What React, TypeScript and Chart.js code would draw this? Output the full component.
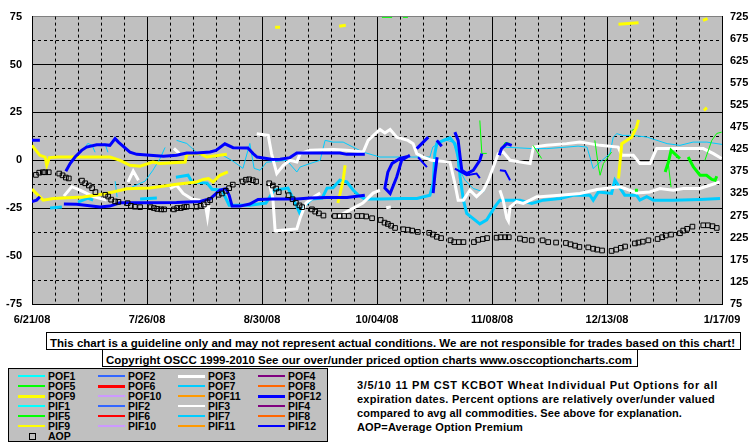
import React, { useEffect, useLayoutEffect, useRef } from 'react';
import { Chart, registerables } from 'chart.js';

Chart.register(...registerables);

type P = [number, number] | null;

// ---------- axes ----------
const xTickLabels = ['6/21/08', '7/26/08', '8/30/08', '10/04/08', '11/08/08', '12/13/08', '1/17/09'];
const xTickDays = [0, 35, 70, 105, 140, 175, 210];
const leftTicks = [-75, -50, -25, 0, 25, 50, 75];
const rightTicks = [75, 125, 175, 225, 275, 325, 375, 425, 475, 525, 575, 625, 675, 725];
const minorLeftVals = [-62.5, -37.5, -12.5, 12.5, 37.5, 62.5];

// ---------- series (x = days since 6/21/08, y = % over/under) ----------
const POF12: P[] = [
  [0, 10.4], [2.4, 10.4], null,
  [10.3, -5.7], [11.6, -1.7], [13.1, 1.7], [15.1, 5.2], [16.6, 6.9], [19.7, 8.1], [22.2, 8.1], [23.7, 7.8],
  [25.3, 11.3], [26.3, 9.5], [29.8, 4.3], [31.9, 3.1], [35.9, 2.6], [40, 2.1], [44, 2.6], [47.1, 3.8],
  [50.1, 3.8], [54.2, 4.3], [56, 5.2], [58.7, 8.6], [61.2, 6.6], [65.7, 6.4], [67.3, 3.5], [68.5, 1.7],
  [73.3, 0.4], [75.5, 0.5], [78.5, 1.4], [80.6, 3.8], [86.6, 3.8], [93.7, 3.8], [95.8, 3.1], [101.3, 3.1], null,
  [115, 2.6], [112.5, 0], [111, -8.7], [109, -17.3], [107.4, -14.5], [108.3, -6.2], [109.6, -1.6], [112, 1], [115, 2.3], null,
  [117.1, 6.1], [120.6, 12.1], null,
  [123.2, 10.4], [124.7, 7.3], null,
  [123.3, 1.6], [122.6, -7.8], [122.1, -17.1], null,
  [128.7, 14.7], [129.7, 10.4], [130.3, 1.7], [130.8, -5.2], [132.3, -6.9], [134.3, -5.2], [136.3, 0], [136.9, 3.5], null,
  [142.2, 2.6], [142.9, 6.1], [144.5, 8.7], [146, 7.8],
];
const PIF12: P[] = [
  [0, -21.6], [1.4, -20.8], [2.4, -19], null,
  [9.7, -22.8], [13.6, -23], [20.7, -24.4], [23.7, -23.9], [26.8, -22.2], [32.9, -22.2], [44, -22],
  [51.1, -21.5], [54.2, -20.1], [57.2, -15.6], [59, -14.8], [60, -18.2], [60.9, -23.9], [63.3, -23.9],
  [66.3, -22.8], [68.8, -20.4], [73.3, -20.2], [80.6, -20.2], [84.6, -19.7], [89.8, -19.4], [95.9, -19.4], [101.3, -18.2],
];
const POF2: P[] = [
  [117.5, 1.6], [120.2, -3.6], null,
  [128.7, -4.3], [132.3, -7.8], [135.3, -6.9], [136.3, -9.3], null,
  [142.4, -5.2], [144, -5.6], [145.5, -10.4],
];
const POF9: P[] = [
  [0, 7.8], [2.4, 2.6], [4, 1.7], [4.5, -2.6], [5.3, 1.4], [7.9, 1.7], [23.7, 1.7], [26.8, 0], [29.8, -2.6],
  [32.9, -3.1], [36.8, -0.9], [39, -1.7], [46.6, -0.9], [47.1, 3.1], [51.1, 3.5], [53.2, 1.7], [59.3, 3.1], null,
  [178.5, -9.5], [179.5, 8.7], [182.5, 12], [184, 17.3], [184.6, 21.1], null,
  [74, 69.5], [75.5, 69.5], null,
  [93.5, 70], [95.5, 70.5], null,
  [178.5, 71], [184.6, 71.8], null,
  [204.2, 73], [205.6, 74], null,
  [204.5, 26], [205.4, 27.5],
];
const PIF9: P[] = [
  [0, -15], [1.5, -17.6], [3.4, -20.8], [6.5, -19.9], [15.6, -19.2], [21.7, -17.6], [24.7, -16.5], [28.8, -14.9],
  [35.9, -14.4], [44, -12.5], [50.1, -11.3], [52.1, -10], [53.7, -9.5], [55.1, -11.3], [57.2, -7.8], [59.6, -6.1], null,
  [93.1, -22.3], [94.7, -10.4], [95.3, -2.6],
];
const POF3: P[] = [
  [43.2, 6.2], [44.8, 3.6], null,
  [68.4, 13.9], [71.9, 13], [72.9, 3.5], [74.5, -6.9], [76.5, -2.6], [78.5, 0], [80.6, -0.9], [81.6, 3.5],
  [84.6, 5.2], [91.7, 5.6], [95.8, 5.2], [100.8, 4.3], [102.3, 10.4], [105.9, 16.1], [107.4, 14.3], [109, 16.1],
  [111, 12.1], [114.4, 10.4], [116, 8.7], [117.1, 3.5], [119.1, 1.7], [121.6, 0], [127.2, -0.9], [128.7, -12.1],
  [129.7, -20.8], [131.3, -20.8], [133.3, -15.6], [135.3, -19], [137.4, -15.6], [138.9, -10.4], [140.4, -3.5],
  [141.9, 3.5], [143.4, 4.3], [145.5, 0], [151.6, -1.7], [152.6, 6.9], [156.6, 7.8], [162.7, 8.7], [166.8, 9.5],
  [169.8, 8.7], [172.9, 7.8], [178.4, 6.9], [179.5, 2.6], [183, 2.6], [185, -1.7], [188.1, -1.7], [190.1, 6.1],
  [199.3, 6.1], [204.3, 6.1], [207.4, 3.5], [209.9, 0.9],
];
const PIF3: P[] = [
  [9.7, -18.7], [12.1, -13.8], [14.6, -15.6], [18.7, -19], [22.7, -20.8], null,
  [29.2, -11.4], [30.8, -5.6], [32.4, -10.4], null,
  [42, -14.7], [44, -13], [46, -17.3], [48.7, -20.2], [51.1, -20.8], [52.7, -22.3], [53.4, -29.6], [53.9, -23.4], null,
  [72.2, -12], [73.3, -19.7], [74, -36.8], [80.6, -35.8], [81.6, -30.1], [83.4, -22.3], [86.1, -18.7], [87.7, -17.1], null,
  [92.8, -29.6], [96.8, -25.9], [100.7, -22.3], [103.8, -17.1], [105.9, -15.6], null,
  [107.8, -24.8], [109.2, -24.4], null,
  [142.4, -15.6], [143.4, -20.8], [144.5, -30.1], [145, -31.7], [145.5, -24.4], [147.5, -21.6], [149.5, -22.5],
  [151.6, -20.8], [153.6, -19], [154.6, -19], [160.7, -18.2], [166.8, -17.3], [171.9, -15.2], [176.9, -14.2],
  [178.9, -13.9], [180.4, -14.7], [184, -17], [188, -16.5], [191.1, -14.7], [195.2, -15.6], [198.2, -14.7],
  [203.3, -14.7], [206.3, -13], [209.3, -11.3],
];
const POF7: P[] = [
  [5.5, -24.9], [9.1, -24.4], null,
  [14, -21.8], [17, -19.7], [18.6, -20.8], null,
  [32.9, -20.2], [38, -19.7], null,
  [43.8, -8.8], [47.5, -7.8], [48.7, -11.4], [53.3, -11.9], [54.8, -15.1], [57.8, -15.6], [60, -23.4], [66.3, -23.4],
  [71.2, -22.3], [73.7, -15.6], [77.9, -14.5], [79.7, -20.8], [81.6, -28], [83.1, -23.4], [85.2, -20.2], [88.3, -19.7],
  [89.8, -14.5], [91.6, -14.3], [93.7, -10.4], [95.8, -11.3], [97.8, -15.6], [99.3, -18.2], [101.3, -20.2],
  [105.9, -20.2], [112.9, -19.9], [117.2, -19.9], [121.1, -18.2], [122.1, -12.1], [122.6, 3.5], [123.2, 8.7],
  [125.2, 10.4], [127.2, 11.7], [128.7, 8.7], [129.7, 1.7], [130.3, -8.7], [131.3, -20.8], [132.3, -27.7],
  [136.3, -33.2], [138.4, -31.1], [140.9, -24.2], [142.4, -20.8], [148.5, -20.8], [152.1, -22.5], [155.6, -20.8],
  [160.7, -19.9], [164.7, -18.2], [169.8, -18.2], [170.8, -20.8], [172.4, -16.5], [176.4, -17.3], [177.4, -10.4],
  [180.4, -18.2], [184, -18.2], [185, -20.8], [187.1, -19], [189.1, -20.8], [195.2, -20.8], [203.3, -20.4], [209.4, -19.9],
];
const PIF7: P[] = [
  [16.1, 6.7], [17, 8.8], [18.3, 7.8], [19.2, 4.2], null,
  [22.2, 8.8], [23.1, 4.2], null,
  [25.3, -10.9], [25.9, -19.2], null,
  [30.4, -14], [34.4, -10.9], [36.8, -5.2], [39, 1], [40.5, 6.7], null,
  [44, 10.4], [47.1, 8.8], [49.1, 5.7], [51.1, 2.6], [55.1, 1.7], [58.1, 2.6], [61.2, -0.5], [64.2, -4.2],
  [66.3, 8.8], [67.6, -4.2], [69.4, -5.2], [71.4, -1], [77.5, 0], [80.6, -6.1], [81.6, -3.5], [84.6, -1.7],
  [87.7, 0], [89.2, 10.4], [91.6, 9.5], [94.7, 9.5], [97.7, 6.9], [100.7, 4.3], [105.9, 1.7], [121.1, 1.7],
  [122, 6.9], [124.2, 9.5], [126.3, 10.4], [128.1, 9.5], [129.3, 4.3], [129.7, -3.5], [131.8, -10.4],
  [134.3, -14.7], [137.4, -16.5], [139.4, -8.7], [141.9, 3.5], [143.4, 6.9], [152.5, 6.1], [156.7, 6.1],
  [162.8, 6.9], [166.2, 7.4], [168.9, 6.9], [169.8, 1.7], [170.8, -4.3], [172.9, -0.9], [175.9, 3.5],
  [176.9, 12.1], [178, 13.9], [179.8, 13], [182.9, 13], [187.2, 12.1], [190.2, 10.4], [193.3, 8.7],
  [197.2, 7.8], [201.2, 9.5], [205.4, 9.5], [210, 8.3],
];
const POF5: P[] = [
  [192.7, -6.1], [193.7, -0.9], [194.5, 5.2], [197.2, 0.9], null,
  [199.7, 1.7], [201.3, -3.5], [203.3, -7.8], [205.3, -7.8], [206.9, -10], [207.9, -10.4], [208.4, -8.3], null,
  [183.5, -15.6], [184.4, -15.6],
];
const PIF5: P[] = [
  [136.3, 20.8], [136.9, 3.6], [138.4, 3.6], null,
  [142.7, 5.2], [144, 9.3], [145.5, 8.8], null,
  [152.5, 7.8], [155.1, 0.9], null,
  [171.3, 10.4], [172.4, -3.5], [172.9, -7.8], [173.9, -1.7], [176.4, 4.3], null,
  [182.5, 15.6], [184, 16.6], null,
  [193.6, -1], [194.5, -14], null,
  [204.8, 0], [206.9, 10.4], [208.4, 14], [209.9, 14.7], null,
  [106.5, 74.6], [109.6, 74.6], null,
  [112.9, 74.6], [114.4, 74.6],
];
// Average option premium (right axis)
const AOP: P[] = [
  [1.2, 367], [2.2, 372], [3.3, 373], [4, 373], [5.1, 373], [8.3, 370], [9.3, 366], [10.3, 361], [11.2, 359],
  [15.2, 354], [16.2, 348], [17.3, 343], [18.3, 337], [19.3, 328], [22.3, 322], [23.2, 318], [24.1, 311],
  [25.3, 307], [26.3, 306], [29.1, 303], [30.1, 297], [31.3, 295], [32.9, 294], [36.1, 294], [37.1, 292],
  [38.1, 290], [39.3, 289], [40.2, 289], [43.2, 289], [44.2, 292], [45.3, 292], [46.3, 294], [47.1, 295],
  [50.1, 295], [51.3, 297], [52.3, 300], [53.4, 305], [54.2, 310], [56.8, 322], [57.8, 325], [59, 331],
  [60, 337], [61.1, 345], [64.1, 352], [65.1, 356], [66.1, 357], [67.2, 355], [68.2, 352], [72.2, 348],
  [73.3, 343], [74.3, 336], [75.1, 328], [78.1, 321], [79.3, 312], [80.3, 304], [81.4, 298], [82.2, 294],
  [85.2, 289], [86.2, 284], [87.3, 280], [88.7, 275], [92.2, 274], [93.6, 274], [95, 274], [96.4, 274],
  [99, 274], [100.4, 274], [101.7, 273], [103.5, 269], [106.1, 265], [107.3, 259], [108.3, 256], [109.3, 252],
  [110.5, 247], [113, 244], [114.4, 243], [115.7, 241], [117.4, 238], [120.9, 236], [122, 232], [123.2, 227],
  [124.5, 224], [127.4, 219], [128.5, 215], [129.9, 215], [131.3, 215], [134.5, 215], [135.8, 220], [137.2, 222],
  [138.5, 224], [141.4, 225], [142.6, 226], [144, 226], [145.1, 226], [148.5, 223], [150, 220], [152.1, 219],
  [155.4, 219], [157.1, 215], [159.5, 214], [162.5, 213], [163.9, 210], [165.3, 207], [166.6, 204], [169.3, 203],
  [170.8, 200], [172, 198], [173.5, 196], [176.4, 195], [177.8, 198], [179.2, 202], [180.5, 205], [183.5, 212],
  [184.6, 214], [185.9, 216], [187.6, 219], [190.4, 222], [191.8, 226], [192.9, 230], [194.5, 232], [197.2, 235],
  [198.2, 241], [199.4, 245], [201, 250], [204.3, 253], [205.7, 253], [207.1, 251], [208.4, 247],
];

// ---------- legend ----------
const legendNames = [
  'POF1', 'POF2', 'POF3', 'POF4', 'POF5', 'POF6', 'POF7', 'POF8', 'POF9', 'POF10', 'POF11', 'POF12',
  'PIF1', 'PIF2', 'PIF3', 'PIF4', 'PIF5', 'PIF6', 'PIF7', 'PIF8', 'PIF9', 'PIF10', 'PIF11', 'PIF12',
];
const legendColors = [
  '#00FFFF', '#3366FF', '#FFFFFF', '#800080', '#00FF00', '#FF0000', '#00CCFF', '#FF6600', '#FFFF00', '#CC99FF', '#FF9900', '#0000FF',
  '#00FFFF', '#3366FF', '#FFFFFF', '#800080', '#00FF00', '#FF0000', '#00CCFF', '#FF6600', '#FFFF00', '#CC99FF', '#FF9900', '#0000FF',
];
const legendWidths = [2, 2, 3, 2, 2, 3, 2, 2, 3, 2, 2, 3, 2, 2, 2, 2, 2, 2, 2, 2, 2, 2, 2, 2];

const box1Text = 'This chart is a guideline only and may not represent actual conditions. We are not responsible for trades based on this chart!';
const box2Text = 'Copyright OSCC 1999-2010 See our over/under priced option charts www.osccoptioncharts.com';
const descLines = [
  '3/5/10 11 PM CST KCBOT Wheat Individual Put Options for all',
  'expiration dates. Percent options are relatively over/under valued',
  'compared to avg all commodities. See above for explanation.',
  'AOP=Average Option Premium',
];
const descWidths = [361, 358, 325, 166];

const SANS = "'Liberation Sans',Arial,sans-serif";
const PLOT_BG = '#C0C0C0';

function toXY(arr: P[]) {
  let lastX = 0;
  return arr.map((p) => {
    if (!p) return { x: lastX, y: null as any };
    lastX = p[0];
    return { x: p[0], y: p[1] };
  });
}

const gridPlugin = {
  id: 'oscGrid',
  beforeDraw(chart: any) {
    const { ctx, chartArea: a } = chart;
    ctx.save();
    ctx.fillStyle = PLOT_BG;
    ctx.fillRect(a.left, a.top, a.right - a.left, a.bottom - a.top);
    ctx.restore();
  },
  beforeDatasetsDraw(chart: any) {
    const { ctx, chartArea: a, scales } = chart;
    const xs = scales.x;
    const ys = scales.y;
    ctx.save();
    ctx.strokeStyle = '#000';
    ctx.lineWidth = 1;
    ctx.setLineDash([3, 3]);
    ctx.beginPath();
    for (let d = 7; d < 210; d += 7) {
      if (d % 35 === 0) continue;
      const px = Math.round(xs.getPixelForValue(d) - 0.5) + 0.5;
      ctx.moveTo(px, a.top);
      ctx.lineTo(px, a.bottom);
    }
    for (const v of minorLeftVals) {
      const py = Math.round(ys.getPixelForValue(v) - 0.5) + 0.5;
      ctx.moveTo(a.left, py);
      ctx.lineTo(a.right, py);
    }
    ctx.stroke();
    ctx.restore();
  },
};

function lineDs(label: string, data: P[], color: string, width: number) {
  return {
    label,
    data: toXY(data),
    borderColor: color,
    backgroundColor: color,
    borderWidth: width,
    pointRadius: 0,
    tension: 0,
    spanGaps: false,
    fill: false,
    yAxisID: 'y',
  };
}

function FitText({ text, width, style }: { text: string; width: number; style: React.CSSProperties }) {
  const ref = useRef<HTMLSpanElement>(null);
  useLayoutEffect(() => {
    const el = ref.current;
    if (!el) return;
    el.style.letterSpacing = '0px';
    const w = el.getBoundingClientRect().width;
    el.style.letterSpacing = (width - w) / text.length + 'px';
  }, [text, width]);
  return (
    <span ref={ref} style={{ ...style, whiteSpace: 'nowrap', display: 'inline-block' }}>
      {text}
    </span>
  );
}

export default function App() {
  const ref = useRef<HTMLCanvasElement>(null);

  useEffect(() => {
    if (!ref.current) return;
    const datasets: any[] = [
      lineDs('PIF7', PIF7, '#00CCFF', 1),
      lineDs('POF7', POF7, '#00CCFF', 3),
      lineDs('PIF3', PIF3, '#FFFFFF', 3),
      lineDs('POF3', POF3, '#FFFFFF', 3),
      lineDs('PIF5', PIF5, '#00FF00', 1),
      lineDs('POF5', POF5, '#00FF00', 3),
      lineDs('PIF9', PIF9, '#FFFF00', 3),
      lineDs('POF9', POF9, '#FFFF00', 3),
      lineDs('POF2', POF2, '#0000FF', 2),
      lineDs('PIF12', PIF12, '#0000FF', 3),
      lineDs('POF12', POF12, '#0000FF', 3),
      {
        label: 'AOP',
        data: toXY(AOP),
        yAxisID: 'y2',
        showLine: false,
        pointStyle: 'rect',
        pointRadius: 3.3,
        pointBorderWidth: 1,
        pointBorderColor: '#000',
        pointBackgroundColor: 'rgba(0,0,0,0)',
        borderColor: '#000',
        backgroundColor: 'rgba(0,0,0,0)',
      },
    ];
    datasets.forEach((d, i) => (d.order = datasets.length - i));

    const tickFont = { family: SANS, size: 11, weight: 'bold' as const };
    const chart = new Chart(ref.current, {
      type: 'line',
      data: { datasets },
      plugins: [gridPlugin],
      options: {
        animation: false,
        responsive: false,
        maintainAspectRatio: false,
        layout: { padding: { top: 15, left: 0, right: 0, bottom: 0 } },
        plugins: { legend: { display: false }, tooltip: { enabled: false } },
        scales: {
          x: {
            type: 'linear',
            min: 0,
            max: 210,
            afterFit: (s: any) => { s.height = 26; },
            afterBuildTicks: (s: any) => { s.ticks = xTickDays.map((v) => ({ value: v })); },
            ticks: {
              autoSkip: false,
              maxRotation: 0,
              padding: 9,
              color: '#000',
              font: tickFont,
              callback: (v: any) => xTickLabels[xTickDays.indexOf(Number(v))] ?? '',
            },
            grid: { color: '#000', lineWidth: 1, drawTicks: false },
            border: { color: '#000', width: 1 },
          },
          y: {
            type: 'linear',
            position: 'left',
            min: -75,
            max: 75,
            afterFit: (s: any) => { s.width = 32; },
            afterBuildTicks: (s: any) => { s.ticks = leftTicks.map((v) => ({ value: v })); },
            ticks: { autoSkip: false, padding: 10, color: '#000', font: tickFont, callback: (v: any) => String(v) },
            grid: {
              color: (c: any) => (c.tick && c.tick.value === 75 ? '#808080' : '#000'),
              lineWidth: 1,
              drawTicks: false,
            },
            border: { color: '#000', width: 1 },
          },
          y2: {
            type: 'linear',
            position: 'right',
            min: 75,
            max: 725,
            afterFit: (s: any) => { s.width = 33; },
            afterBuildTicks: (s: any) => { s.ticks = rightTicks.map((v) => ({ value: v })); },
            ticks: { autoSkip: false, padding: 8, color: '#000', font: tickFont, callback: (v: any) => String(v) },
            grid: { drawOnChartArea: false, drawTicks: false },
            border: { color: '#000', width: 1 },
          },
        },
      } as any,
    });
    return () => chart.destroy();
  }, []);

  const legendRows: React.ReactNode[] = [];
  legendNames.forEach((name, i) => {
    const col = i % 4;
    const row = Math.floor(i / 4);
    const cy = 376 + row * 10;
    const w = legendWidths[i];
    legendRows.push(
      <div key={'l' + name} style={{ position: 'absolute', left: 18 + col * 80, top: cy - w / 2, width: 27, height: w, background: legendColors[i] }} />,
      <div key={'t' + name} style={{ position: 'absolute', left: 48 + col * 80, top: cy - 6, height: 12, lineHeight: '12px', fontFamily: SANS, fontWeight: 'bold', fontSize: 10.5, color: '#000', whiteSpace: 'nowrap' }}>{name}</div>,
    );
  });

  const boxText: React.CSSProperties = { fontFamily: SANS, fontWeight: 'bold', fontSize: 11.5, lineHeight: '16px', color: '#000' };

  return (
    <div style={{ position: 'absolute', left: 0, top: 0, width: 755, height: 446, background: '#fff', overflow: 'hidden' }}>
      <canvas ref={ref} width={755} height={330} style={{ position: 'absolute', left: 0, top: 0, width: 755, height: 330, display: 'block' }} />
      <div style={{ position: 'absolute', left: 46, top: 332, width: 695, height: 18, boxSizing: 'border-box', border: '1px solid #000', background: '#fff', paddingLeft: 3, overflow: 'hidden' }}>
        <FitText text={box1Text} width={685} style={boxText} />
      </div>
      <div style={{ position: 'absolute', left: 102, top: 349, width: 536, height: 18, boxSizing: 'border-box', border: '1px solid #000', background: '#fff', paddingLeft: 3, overflow: 'hidden' }}>
        <FitText text={box2Text} width={526} style={boxText} />
      </div>
      <div style={{ position: 'absolute', left: 8, top: 368, width: 320, height: 74, boxSizing: 'border-box', border: '1px solid #000', background: PLOT_BG }} />
      {legendRows}
      <div style={{ position: 'absolute', left: 29, top: 433, width: 5, height: 5, border: '1px solid #000', boxSizing: 'content-box' }} />
      <div style={{ position: 'absolute', left: 48, top: 430, height: 12, lineHeight: '12px', fontFamily: SANS, fontWeight: 'bold', fontSize: 10.5, color: '#000' }}>AOP</div>
      {descLines.map((t, i) => (
        <div key={'d' + i} style={{ position: 'absolute', left: 357, top: 377 + i * 14, height: 14, lineHeight: '14px' }}>
          <FitText text={t} width={descWidths[i]} style={{ fontFamily: SANS, fontWeight: 'bold', fontSize: 11, lineHeight: '14px', color: '#000' }} />
        </div>
      ))}
    </div>
  );
}
